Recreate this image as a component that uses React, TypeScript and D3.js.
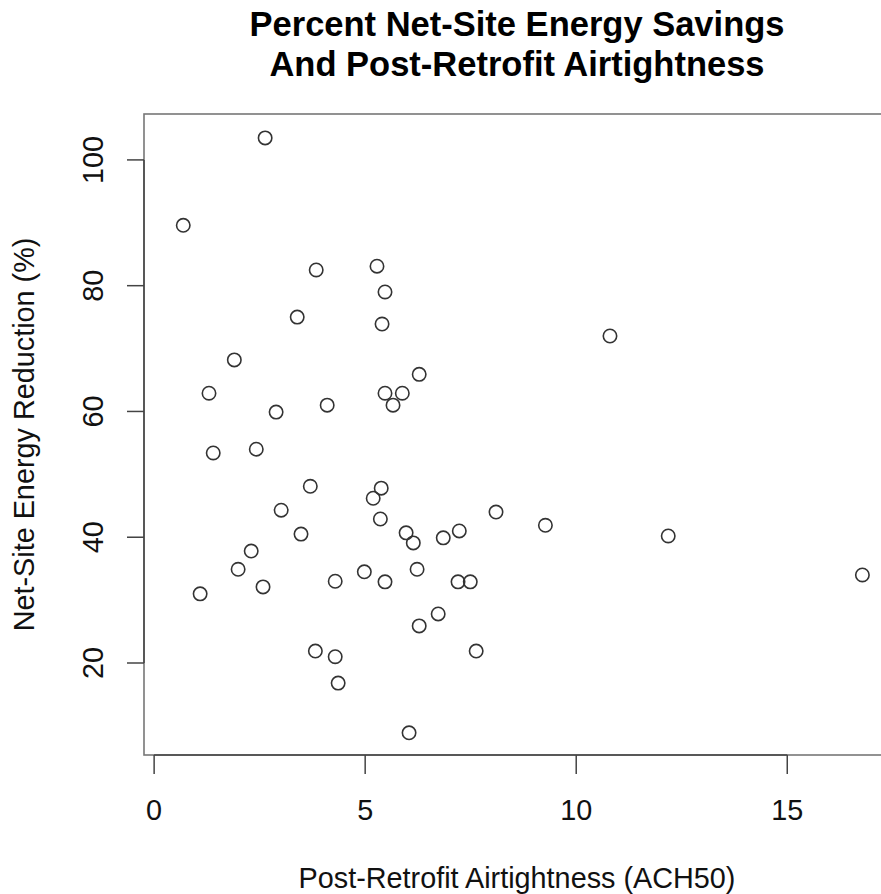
import React from 'react';
import * as d3 from 'd3';

// post-retrofit ACH50 for each home
const airtightness = [
  2.63, 0.69, 3.84, 5.28, 5.47, 3.39, 5.4, 10.8, 1.9, 6.28,
  1.3, 5.47, 5.88, 5.66, 4.1, 2.89, 1.4, 2.42, 3.7, 5.38,
  5.19, 3.01, 8.1, 9.27, 5.36, 3.48, 5.97, 7.23, 6.85, 6.14,
  12.18, 2.3, 1.99, 4.98, 6.23, 4.29, 5.47, 7.2, 7.49, 16.78,
  2.58, 1.09, 6.73, 6.28, 3.82, 4.29, 7.63, 4.36, 6.04,
];
// percent net-site energy reduction, same order
const reduction = [
  103.5, 89.6, 82.5, 83.1, 79.0, 75.0, 73.9, 72.0, 68.2, 65.9,
  62.9, 62.9, 62.9, 61.0, 61.0, 59.9, 53.4, 54.0, 48.1, 47.8,
  46.2, 44.3, 44.0, 41.9, 42.9, 40.5, 40.7, 41.0, 39.9, 39.1,
  40.2, 37.8, 34.9, 34.5, 34.9, 33.0, 32.9, 32.9, 32.9, 34.0,
  32.1, 31.0, 27.8, 25.9, 21.9, 21.0, 21.9, 16.8, 8.9,
];
const xTicks = [0, 5, 10, 15];
const yTicks = [20, 40, 60, 80, 100];
const titleLines = ['Percent Net-Site Energy Savings', 'And Post-Retrofit Airtightness'];

const W = 881;
const H = 894;
const font = '"Liberation Sans", Arial, Helvetica, sans-serif';

export default function App() {
  // plot region (R-style, 4% padding around the data)
  const x = d3.scaleLinear().domain([-0.24, 17.6]).range([144, 897]);
  const y = d3.scaleLinear().domain([5.37, 107.3]).range([755, 114]);
  const [x0, x1] = x.range();
  const [yb, yt] = y.range();

  const pts = d3.zip(airtightness, reduction);

  return (
    <svg width={W} height={H} style={{ position: 'absolute', left: 0, top: 0, background: '#fff' }}
      fontFamily={font}>
      {/* title */}
      {titleLines.map((t, i) => (
        <text key={t} x={517} y={36 + i * 40} textAnchor="middle" fontSize={34.5}
          fontWeight="bold" fill="#000">{t}</text>
      ))}

      {/* box */}
      <rect x={x0} y={yt} width={x1 - x0} height={yb - yt} fill="none" stroke="#777" strokeWidth={1.6} />

      {/* x axis */}
      <g stroke="#444" strokeWidth={1.5}>
        <line x1={x(xTicks[0])} x2={x(xTicks[xTicks.length - 1])} y1={yb} y2={yb} />
        {xTicks.map(t => (
          <line key={t} x1={x(t)} x2={x(t)} y1={yb} y2={yb + 19} />
        ))}
      </g>
      {xTicks.map(t => (
        <text key={t} x={x(t)} y={820} textAnchor="middle" fontSize={28.8} fill="#111">{t}</text>
      ))}
      <text x={517} y={888} textAnchor="middle" fontSize={28.8} fill="#111">
        Post-Retrofit Airtightness (ACH50)
      </text>

      {/* y axis */}
      <g stroke="#444" strokeWidth={1.5}>
        <line x1={x0} x2={x0} y1={y(yTicks[0])} y2={y(yTicks[yTicks.length - 1])} />
        {yTicks.map(t => (
          <line key={t} x1={x0} x2={x0 - 17} y1={y(t)} y2={y(t)} />
        ))}
      </g>
      {yTicks.map(t => (
        <text key={t} transform={`translate(103,${y(t)}) rotate(-90)`} textAnchor="middle"
          fontSize={28.8} fill="#111">{t}</text>
      ))}
      <text transform={`translate(34,${(yb + yt) / 2}) rotate(-90)`} textAnchor="middle"
        fontSize={28.8} fill="#111">Net-Site Energy Reduction (%)</text>

      {/* points */}
      <g fill="none" stroke="#333" strokeWidth={1.6}>
        {pts.map(([a, r], i) => (
          <circle key={i} cx={x(a)} cy={y(r)} r={6.7} />
        ))}
      </g>
    </svg>
  );
}
